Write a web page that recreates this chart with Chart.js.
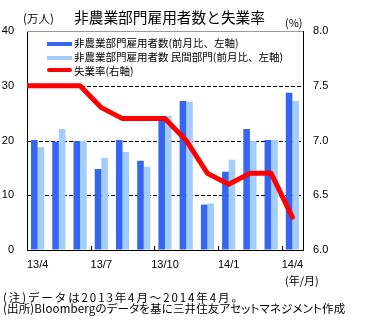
<!DOCTYPE html>
<html>
<head>
<meta charset="utf-8">
<script src="https://cdn.jsdelivr.net/npm/chart.js@4/dist/chart.umd.min.js"></script>
<style>
  html, body { margin: 0; padding: 0; background: #fff; }
  #wrap { position: relative; width: 365px; height: 325px; overflow: hidden; }
  #chart { position: absolute; left: 0; top: 0; }
  .t { position: absolute; white-space: nowrap; color: #000; font-family: "Noto Sans CJK JP", sans-serif; }
  .lg { position: absolute; left: 47px; width: 25px; height: 4px; }
</style>
</head>
<body>
<div id="wrap">
  <canvas id="chart" width="365" height="325"></canvas>

  <div class="t" style="left:23px; top:10px; font-size:11.5px; line-height:16px;">(万人)</div>
  <div class="t" style="left:74px; top:7px; font-size:14.7px; line-height:20px;">非農業部門雇用者数と失業率</div>
  <div class="t" style="left:285px; top:14px; font-size:11px; line-height:16px;">(%)</div>

  <div class="lg" style="top:42px; background:#3566ef;"></div>
  <div class="t" style="left:74px; top:36px; font-size:10.5px; line-height:14px;">非農業部門雇用者数(前月比、左軸)</div>
  <div class="lg" style="top:56px; background:#a3cdf9;"></div>
  <div class="t" style="left:74px; top:50px; font-size:10.5px; line-height:14px;">非農業部門雇用者数 民間部門(前月比、左軸)</div>
  <div class="lg" style="top:68px; background:#ff0000; border-radius:2px;"></div>
  <div class="t" style="left:74px; top:64px; font-size:10.5px; line-height:14px;">失業率(右軸)</div>

  <div class="t" style="left:285px; top:272px; font-size:11px; line-height:16px;">(年/月)</div>
  <div class="t" style="left:3px; top:290px; font-size:11.5px; line-height:15px; letter-spacing:1.9px;">(注)データは2013年4月～2014年4月。</div>
  <div class="t" style="left:3px; top:301px; font-size:11.5px; line-height:15px; font-feature-settings:'palt'; letter-spacing:0.15px;">(出所)Bloombergのデータを基に三井住友アセットマネジメント作成</div>
</div>

<script>
const months = ["13/4", "13/5", "13/6", "13/7", "13/8", "13/9", "13/10",
                "13/11", "13/12", "14/1", "14/2", "14/3", "14/4"];
const payrolls   = [20.1, 19.8, 19.9, 14.8, 20.1, 16.3, 23.6, 27.2, 8.3, 14.3, 22.1, 20.1, 28.7];
const privateJob = [18.8, 22.1, 19.9, 16.8, 17.9, 15.2, 24.5, 27.1, 8.5, 16.5, 19.9, 20.1, 27.2];
const jobless    = [7.5, 7.5, 7.5, 7.3, 7.2, 7.2, 7.2, 7.0, 6.7, 6.6, 6.7, 6.7, 6.3];

const leftTicks  = [0, 10, 20, 30, 40];
const rightTicks = [6.0, 6.5, 7.0, 7.5, 8.0];
const labelEvery = 3;

const tickFont = { family: "'Liberation Sans', Arial, sans-serif", size: 11 };

// dashed gridlines behind bars, grey frame top, tick marks, red line lead-in
const framePlugin = {
    id: "frame",
    beforeDatasetsDraw(chart) {
        const { ctx, chartArea: a } = chart;
        const y = chart.scales.y;
        ctx.save();
        ctx.lineWidth = 1;
        y.ticks.forEach(t => {
            const py = Math.round(y.getPixelForValue(t.value)) + 0.5;
            if (t.value > y.min && t.value < y.max) {
                ctx.strokeStyle = "#000";
                ctx.setLineDash([4, 2]);
            } else if (t.value === y.max) {
                ctx.strokeStyle = "#9a9a9a";
                ctx.setLineDash([]);
            } else {
                return;
            }
            ctx.beginPath();
            ctx.moveTo(a.left, py);
            ctx.lineTo(a.right, py);
            ctx.stroke();
        });
        ctx.restore();
    },
    afterDatasetsDraw(chart) {
        const { ctx, chartArea: a } = chart;
        const x = chart.scales.x, y1 = chart.scales.y1;
        ctx.save();
        // inward tick marks between categories
        ctx.strokeStyle = "#000";
        ctx.lineWidth = 1;
        for (let i = labelEvery; i < months.length; i += labelEvery) {
            const px = Math.round((x.getPixelForValue(i - 1) + x.getPixelForValue(i)) / 2) + 0.5;
            ctx.beginPath();
            ctx.moveTo(px, a.bottom);
            ctx.lineTo(px, a.bottom - 4);
            ctx.stroke();
        }
        // the unemployment line starts at the left axis
        const py = y1.getPixelForValue(jobless[0]);
        ctx.strokeStyle = "#ff0000";
        ctx.lineWidth = 5;
        ctx.beginPath();
        ctx.moveTo(a.left, py);
        ctx.lineTo(x.getPixelForValue(0), py);
        ctx.stroke();
        ctx.restore();
    }
};

new Chart(document.getElementById("chart"), {
    type: "bar",
    data: {
        labels: months,
        datasets: [
            {
                type: "line",
                label: "失業率(右軸)",
                data: jobless,
                yAxisID: "y1",
                borderColor: "#ff0000",
                borderWidth: 5,
                pointRadius: 0,
                tension: 0,
                borderJoinStyle: "round",
                borderCapStyle: "round",
                order: 0,
            },
            {
                label: "非農業部門雇用者数(前月比、左軸)",
                data: payrolls,
                yAxisID: "y",
                backgroundColor: "#3566ef",
                order: 1,
            },
            {
                label: "非農業部門雇用者数 民間部門(前月比、左軸)",
                data: privateJob,
                yAxisID: "y",
                backgroundColor: "#a3cdf9",
                order: 2,
            },
        ]
    },
    options: {
        responsive: false,
        devicePixelRatio: 1,
        animation: false,
        categoryPercentage: 0.62,
        barPercentage: 1.0,
        layout: { padding: { top: 31, left: 0, right: 0, bottom: 0 } },
        plugins: {
            legend: { display: false },
            tooltip: { enabled: false },
        },
        scales: {
            x: {
                afterFit: s => { s.height = 75; },
                grid: { drawOnChartArea: false, drawTicks: false },
                border: { display: true, color: "#000", width: 1 },
                ticks: {
                    autoSkip: false,
                    maxRotation: 0,
                    padding: 8,
                    color: "#000",
                    font: tickFont,
                    callback: (v, i) => (i % labelEvery === 0 ? months[i] : ""),
                },
            },
            y: {
                position: "left",
                min: leftTicks[0],
                max: leftTicks[leftTicks.length - 1],
                afterFit: s => { s.width = 27; },
                afterBuildTicks: s => { s.ticks = leftTicks.map(v => ({ value: v })); },
                grid: { drawOnChartArea: false, drawTicks: false },
                border: { display: true, color: "#000", width: 1 },
                ticks: { padding: 13, color: "#000", font: tickFont },
            },
            y1: {
                position: "right",
                min: rightTicks[0],
                max: rightTicks[rightTicks.length - 1],
                afterFit: s => { s.width = 62; },
                afterBuildTicks: s => { s.ticks = rightTicks.map(v => ({ value: v })); },
                grid: { drawOnChartArea: false, drawTicks: false },
                border: { display: true, color: "#000", width: 1 },
                ticks: {
                    padding: 10,
                    color: "#000",
                    font: tickFont,
                    callback: v => Number(v).toFixed(1),
                },
            },
        }
    },
    plugins: [framePlugin]
});
</script>
</body>
</html>
